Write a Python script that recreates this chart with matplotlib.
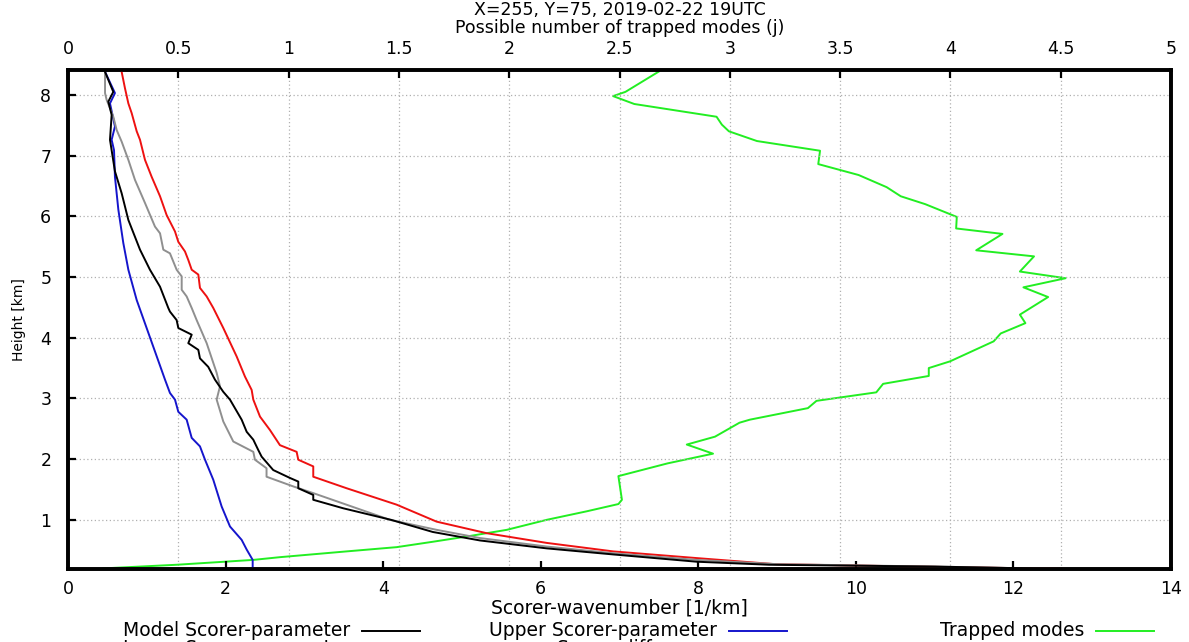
import matplotlib

matplotlib.use("Agg")
import matplotlib.pyplot as plt  # noqa: E402
from matplotlib.lines import Line2D  # noqa: E402

# profiles, listed from model top downwards: (wavenumber [1/km], height [km])
model_k = [0.47, 0.575, 0.512, 0.554, 0.533, 0.596, 0.681, 0.766, 0.914, 1.04, 1.168, 1.273,
           1.294, 1.379, 1.40, 1.57, 1.527, 1.654, 1.675, 1.78, 1.865, 1.97, 2.056, 2.204,
           2.268, 2.352, 2.415, 2.458, 2.605, 2.817, 2.923, 2.923, 3.113, 3.113, 3.494, 4.10,
           4.63, 5.23, 6.075, 6.92, 7.98, 8.9, 11.0, 12.6]
model_z = [8.38, 8.05, 7.89, 7.67, 7.26, 6.74, 6.38, 5.94, 5.45, 5.12, 4.84, 4.49,
           4.43, 4.29, 4.16, 4.05, 3.91, 3.80, 3.66, 3.52, 3.31, 3.11, 2.98, 2.65,
           2.45, 2.32, 2.15, 2.04, 1.82, 1.69, 1.63, 1.52, 1.41, 1.33, 1.19, 1.00,
           0.80, 0.66, 0.53, 0.43, 0.31, 0.26, 0.23, 0.19]

lower_k = [0.681, 0.723, 0.766, 0.808, 0.872, 0.914, 0.977, 1.062, 1.168, 1.252, 1.358, 1.40,
           1.485, 1.527, 1.57, 1.654, 1.675, 1.76, 1.844, 1.971, 2.141, 2.246, 2.331, 2.352,
           2.437, 2.563, 2.69, 2.902, 2.923, 3.113, 3.113, 3.537, 4.171, 4.679, 5.313, 6.075,
           6.92, 7.978, 8.97, 10.8, 12.7]
lower_z = [8.38, 8.11, 7.86, 7.70, 7.40, 7.26, 6.93, 6.65, 6.33, 6.02, 5.75, 5.58,
           5.42, 5.28, 5.12, 5.04, 4.82, 4.68, 4.49, 4.16, 3.69, 3.36, 3.14, 2.98,
           2.70, 2.48, 2.23, 2.12, 1.99, 1.88, 1.71, 1.52, 1.25, 0.97, 0.78, 0.62,
           0.48, 0.37, 0.27, 0.23, 0.19]

upper_k = [0.47, 0.596, 0.533, 0.596, 0.554, 0.584, 0.596, 0.639, 0.702, 0.766, 0.872, 0.998,
           1.231, 1.294, 1.358, 1.40, 1.506, 1.570, 1.675, 1.739, 1.844, 1.950, 2.056, 2.204,
           2.268, 2.344, 2.344]
upper_z = [8.38, 8.03, 7.86, 7.48, 7.26, 7.09, 6.65, 6.11, 5.56, 5.12, 4.62, 4.16,
           3.31, 3.09, 2.98, 2.78, 2.65, 2.35, 2.21, 1.99, 1.66, 1.22, 0.89, 0.67,
           0.51, 0.34, 0.19]

diff_k = [0.47, 0.47, 0.49, 0.575, 0.618, 0.681, 0.766, 0.850, 0.977, 1.104, 1.168, 1.21,
          1.294, 1.379, 1.443, 1.443, 1.506, 1.57, 1.633, 1.76, 1.887, 1.929, 1.887, 1.971,
          2.098, 2.352, 2.373, 2.52, 2.52, 2.86, 3.113, 4.086, 4.679, 5.228, 6.075, 6.92,
          7.98, 9.0, 11.0, 12.6]
diff_z = [8.38, 8.03, 7.92, 7.64, 7.42, 7.23, 6.93, 6.60, 6.22, 5.83, 5.72, 5.45,
          5.39, 5.12, 5.01, 4.79, 4.68, 4.49, 4.29, 3.91, 3.42, 3.20, 2.98, 2.62,
          2.29, 2.12, 1.99, 1.85, 1.71, 1.55, 1.44, 1.00, 0.835, 0.70, 0.56, 0.45,
          0.34, 0.27, 0.23, 0.19]

# number of trapped modes (upper axis)
modes_j = [2.678, 2.527, 2.471, 2.567, 2.940, 2.964, 2.996, 3.123, 3.409, 3.401, 3.584, 3.711,
           3.775, 3.886, 4.029, 4.026, 4.236, 4.117, 4.379, 4.315, 4.522, 4.331, 4.443, 4.315,
           4.340, 4.228, 4.196, 3.998, 3.902, 3.902, 3.695, 3.664, 3.393, 3.354, 3.091, 3.044,
           2.933, 2.805, 2.924, 2.718, 2.495, 2.511, 2.495, 2.351, 2.170, 1.989, 1.807, 1.656,
           1.490, 1.263, 0.961, 0.84, 0.493, 0.16]
modes_z = [8.384, 8.05, 7.98, 7.85, 7.64, 7.51, 7.40, 7.24, 7.08, 6.86, 6.68, 6.48,
           6.33, 6.20, 5.99, 5.80, 5.71, 5.44, 5.34, 5.09, 4.98, 4.83, 4.67, 4.38,
           4.24, 4.07, 3.94, 3.61, 3.50, 3.37, 3.24, 3.10, 2.96, 2.84, 2.65, 2.60,
           2.37, 2.24, 2.09, 1.93, 1.72, 1.33, 1.26, 1.14, 1.00, 0.835, 0.725, 0.64,
           0.55, 0.48, 0.385, 0.34, 0.26, 0.20]

bottom_ticks = [0, 2, 4, 6, 8, 10, 12, 14]
top_ticks = [0, 0.5, 1, 1.5, 2, 2.5, 3, 3.5, 4, 4.5, 5]
top_labels = ["0", "0.5", "1", "1.5", "2", "2.5", "3", "3.5", "4", "4.5", "5"]
height_ticks = [1, 2, 3, 4, 5, 6, 7, 8]

BLACK, RED, BLUE, GRAY, GREEN = "#000000", "#ee1111", "#1515cc", "#8f8f8f", "#22ee22"
W, H = 1189, 642

fig = plt.figure(figsize=(W / 100, H / 100), dpi=100)
ax = fig.add_axes([68 / W, 1 - 569 / H, (1171 - 68) / W, (569 - 70) / H])
ax2 = ax.twiny()
# keep the profiles above the upper-axis grid
ax.set_zorder(ax2.get_zorder() + 1)
ax.patch.set_visible(False)

grid_kw = dict(color="#b0b0b0", linestyle=(0, (1, 2)), linewidth=0.9)

ax2.plot(modes_j, modes_z, color=GREEN, lw=1.4)
ax2.set_xlim(0, 5)
ax2.set_xticks(top_ticks, top_labels)
ax2.grid(axis="x", **grid_kw)
ax2.tick_params(axis="x", direction="in", length=6, width=1.6, labelsize=12.5, pad=9)
ax2.set_xlabel("Possible number of trapped modes (j)", fontsize=12.5, va="center")
ax2.xaxis.set_label_coords(0.5, (569 - 28) / (569 - 70))

ax.plot(upper_k, upper_z, color=BLUE, lw=1.4)
ax.plot(lower_k, lower_z, color=RED, lw=1.4)
ax.plot(diff_k, diff_z, color=GRAY, lw=1.4)
ax.plot(model_k, model_z, color=BLACK, lw=1.4)

ax.set_xlim(0, 14)
ax.set_ylim(0.19, 8.41)
ax.set_xticks(bottom_ticks)
ax.set_yticks(height_ticks)
ax.grid(axis="y", **grid_kw)
ax.tick_params(axis="x", direction="in", length=6, width=1.6, labelsize=12.5, pad=8)
ax.tick_params(axis="y", direction="in", length=6, width=1.6, labelsize=12.5, pad=12)
ax.set_xlabel("Scorer-wavenumber [1/km]", fontsize=13.5, labelpad=0)
ax.set_ylabel("Height [km]", fontsize=10, labelpad=10)

for a in (ax, ax2):
    for s in a.spines.values():
        s.set_linewidth(2.6)

fig.text(620 / W, 1 - 10 / H, "X=255, Y=75, 2019-02-22 19UTC", ha="center", va="center",
         fontsize=12.5)

# key: text right-justified, sample line after it, equal column widths
key = [("Model Scorer-parameter", BLACK), ("Upper Scorer-parameter", BLUE),
       ("Trapped modes", GREEN), ("Lower Scorer-parameter", RED),
       ("Scorer-difference", GRAY)]
for i, (label, color) in enumerate(key):
    col, row = i % 3, i // 3
    xr = (350 + 367 * col) / W
    y = 1 - (631 + 18 * row) / H
    fig.text(xr, y, label, ha="right", va="center", fontsize=13.5)
    fig.add_artist(Line2D([xr + 12 / W, xr + 70 / W], [y, y], color=color, lw=1.4))

fig.savefig("out.png", dpi=100)
